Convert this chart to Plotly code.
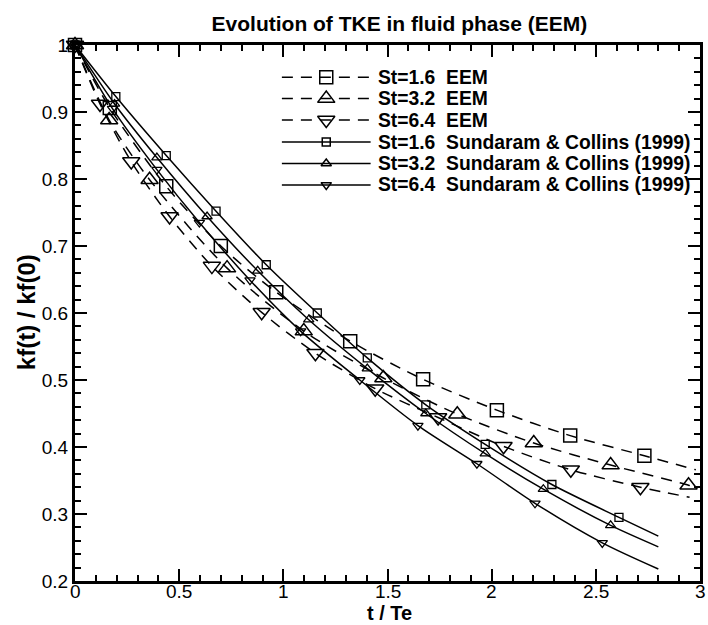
import plotly.graph_objects as go

# ---- EEM results (large open symbols, dashed curves) ----
t_eem16 = [0.0, 0.167, 0.438, 0.700, 0.966, 1.321, 1.671, 2.025, 2.377, 2.733]
k_eem16 = [1.0, 0.906, 0.789, 0.700, 0.631, 0.558, 0.501, 0.455, 0.417, 0.387]
t_eem32 = [0.0, 0.164, 0.358, 0.730, 1.098, 1.480, 1.835, 2.202, 2.571, 2.945]
k_eem32 = [1.0, 0.888, 0.799, 0.667, 0.573, 0.503, 0.449, 0.406, 0.373, 0.343]
t_eem64 = [0.0, 0.120, 0.270, 0.454, 0.657, 0.896, 1.154, 1.441, 1.743, 2.057, 2.380, 2.714]
k_eem64 = [1.0, 0.912, 0.826, 0.744, 0.670, 0.601, 0.540, 0.487, 0.444, 0.401, 0.366, 0.340]

# last sample of each dashed curve (no symbol drawn there)
t_eem_end = [2.98, 2.97, 2.95]
k_eem_end = [0.366, 0.340, 0.325]

# ---- Sundaram & Collins (1999) DNS (small open symbols, solid curves) ----
t_sc16 = [0.0, 0.196, 0.438, 0.677, 0.918, 1.163, 1.403, 1.684, 1.969, 2.289, 2.611]
k_sc16 = [1.0, 0.923, 0.835, 0.752, 0.672, 0.600, 0.533, 0.463, 0.404, 0.344, 0.295]
t_sc32 = [0.0, 0.190, 0.393, 0.634, 0.877, 1.122, 1.403, 1.684, 1.969, 2.248, 2.571]
k_sc32 = [1.0, 0.912, 0.832, 0.744, 0.663, 0.590, 0.517, 0.450, 0.390, 0.337, 0.283]
t_sc64 = [0.0, 0.180, 0.393, 0.597, 0.840, 1.083, 1.367, 1.646, 1.929, 2.208, 2.531]
k_sc64 = [1.0, 0.905, 0.814, 0.735, 0.649, 0.573, 0.500, 0.432, 0.375, 0.316, 0.257]

t_sc_end = [2.80, 2.80, 2.80]
k_sc_end = [0.267, 0.251, 0.218]

# x tick labels
x_tick_vals = [0, 0.5, 1, 1.5, 2, 2.5, 3]
x_tick_text = ["0", "0.5", "1", "1.5", "2", "2.5", "3"]

legend_labels = [
    "St=1.6\u00a0 EEM",
    "St=3.2\u00a0 EEM",
    "St=6.4\u00a0 EEM",
    "St=1.6\u00a0 Sundaram & Collins (1999)",
    "St=3.2\u00a0 Sundaram & Collins (1999)",
    "St=6.4\u00a0 Sundaram & Collins (1999)",
]

FONT = "Liberation Sans, Arial, Helvetica, sans-serif"
DASH = "11px,8px"

eem = [(t_eem16, k_eem16, "square-open"),
       (t_eem32, k_eem32, "triangle-up-open"),
       (t_eem64, k_eem64, "triangle-down-open")]
sc = [(t_sc16, k_sc16, "square-open"),
      (t_sc32, k_sc32, "triangle-up-open"),
      (t_sc64, k_sc64, "triangle-down-open")]

big_size = {"square-open": 13, "triangle-up-open": 15, "triangle-down-open": 15}
small_size = {"square-open": 8, "triangle-up-open": 9, "triangle-down-open": 9}

fig = go.Figure()

# curves
for i, (t, k, sym) in enumerate(eem):
    fig.add_trace(go.Scatter(
        x=t + [t_eem_end[i]], y=k + [k_eem_end[i]], mode="lines",
        line=dict(color="black", width=1.5, dash=DASH, shape="spline", smoothing=0.8),
        showlegend=False, hoverinfo="skip"))
for i, (t, k, sym) in enumerate(sc):
    fig.add_trace(go.Scatter(
        x=t + [t_sc_end[i]], y=k + [k_sc_end[i]], mode="lines",
        line=dict(color="black", width=1.5, shape="spline", smoothing=0.8),
        showlegend=False, hoverinfo="skip"))

# symbols
for i, (t, k, sym) in enumerate(eem):
    fig.add_trace(go.Scatter(
        x=t, y=k, mode="markers", cliponaxis=False,
        marker=dict(symbol=sym, size=big_size[sym], color="black",
                    line=dict(color="black", width=1.5)),
        name=legend_labels[i], showlegend=False))
for i, (t, k, sym) in enumerate(sc):
    fig.add_trace(go.Scatter(
        x=t, y=k, mode="markers", cliponaxis=False,
        marker=dict(symbol=sym, size=small_size[sym], color="black",
                    line=dict(color="black", width=1.3)),
        name=legend_labels[3 + i], showlegend=False))

# ---- hand-drawn legend on an overlay unit axis ----
row_y = [0.940, 0.900, 0.860, 0.819, 0.779, 0.739]
sample_x0, sample_x1, sample_xm, text_x = 0.331, 0.473, 0.402, 0.481
styles = [(DASH, "square-open", 13), (DASH, "triangle-up-open", 15),
          (DASH, "triangle-down-open", 15), ("solid", "square-open", 8),
          ("solid", "triangle-up-open", 9), ("solid", "triangle-down-open", 9)]
for (dash, sym, sz), yy, lab in zip(styles, row_y, legend_labels):
    fig.add_trace(go.Scatter(
        x=[sample_x0, sample_x1], y=[yy, yy], mode="lines",
        line=dict(color="black", width=1.5, dash=dash),
        xaxis="x2", yaxis="y2", showlegend=False, hoverinfo="skip"))
    fig.add_trace(go.Scatter(
        x=[sample_xm], y=[yy], mode="markers",
        marker=dict(symbol=sym, size=sz, color="black", line=dict(color="black", width=1.5)),
        xaxis="x2", yaxis="y2", showlegend=False, hoverinfo="skip"))
    fig.add_annotation(x=text_x, y=yy, xref="paper", yref="paper", text=lab,
                       showarrow=False, xanchor="left", yanchor="middle",
                       font=dict(family=FONT, size=19.3, color="black", weight="bold"))

axis_common = dict(
    showgrid=False, zeroline=False, showline=True, linecolor="black", linewidth=3,
    mirror="allticks", ticks="inside", tickcolor="black", tickwidth=2, ticklen=12,
    tickfont=dict(family=FONT, size=19, color="black"),
)

fig.update_layout(
    width=708, height=625,
    margin=dict(l=75, r=5, t=45, b=44),
    paper_bgcolor="white", plot_bgcolor="white",
    font=dict(family=FONT, color="black"),
    title=dict(text="Evolution of TKE in fluid phase (EEM)",
               font=dict(family=FONT, size=21, color="black", weight="bold"),
               x=0.519, xref="paper", xanchor="center",
               y=1 - 24 / 625, yref="container", yanchor="middle"),
    xaxis=dict(range=[0, 3], dtick=0.5, tick0=0, showticklabels=False,
               minor=dict(dtick=0.1, ticks="inside", ticklen=6, tickwidth=1.5, tickcolor="black"),
               **axis_common),
    yaxis=dict(range=[0.2, 1.0], dtick=0.1, tick0=0.2,
               minor=dict(dtick=0.02, ticks="inside", ticklen=6, tickwidth=1.5, tickcolor="black"),
               **axis_common),
    xaxis2=dict(range=[0, 1], overlaying="x", visible=False, fixedrange=True),
    yaxis2=dict(range=[0, 1], overlaying="y", visible=False, fixedrange=True),
    showlegend=False,
)

# x tick labels set just under the axis line
for v, s in zip(x_tick_vals, x_tick_text):
    fig.add_annotation(x=v, y=-0.0187, xref="x", yref="paper", text=s,
                       showarrow=False, xanchor="center", yanchor="middle",
                       font=dict(family=FONT, size=19, color="black"))

fig.add_annotation(x=0.503, y=-0.0597, xref="paper", yref="paper", text="t / Te",
                   showarrow=False, xanchor="center", yanchor="middle",
                   font=dict(family=FONT, size=20, color="black", weight="bold"))
fig.add_annotation(x=-0.0764, y=0.502, xref="paper", yref="paper", text="kf(t) / kf(0)",
                   showarrow=False, xanchor="center", yanchor="middle", textangle=-90,
                   font=dict(family=FONT, size=24, color="black", weight="bold"))

fig.write_html("out.html")
